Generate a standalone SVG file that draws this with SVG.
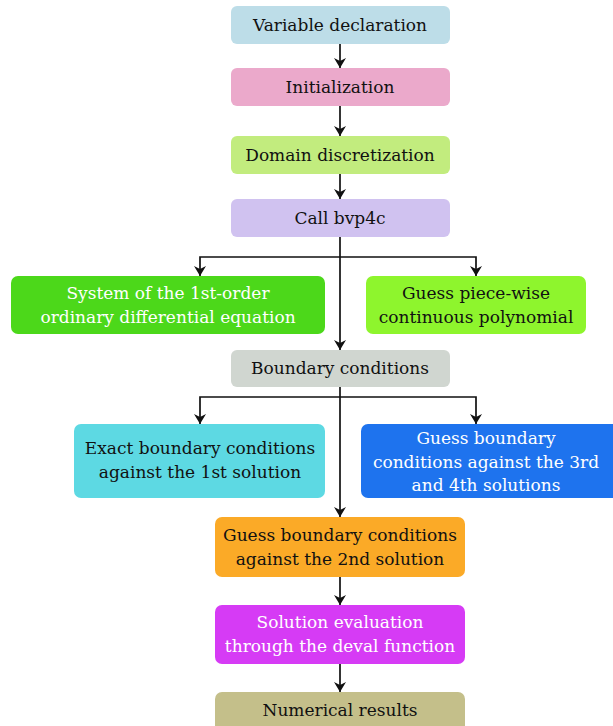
<svg xmlns="http://www.w3.org/2000/svg" width="613" height="726" viewBox="0 0 613 726">
<style>
text{font-family:"DejaVu Serif","Liberation Serif",serif;font-size:17px;text-anchor:middle;fill:#111}
text.w{fill:#fff}
.c{stroke:#111;stroke-width:1.7;fill:none}
</style>
<defs>
<marker id="ah" viewBox="0 0 10 12" refX="10" refY="6" markerWidth="11" markerHeight="12" markerUnits="userSpaceOnUse" orient="auto">
<path d="M0,0 L10,6 L0,12 L3,6 Z" fill="#111"/>
</marker>
</defs>
<rect width="613" height="726" fill="#fff"/>
<g id="connectors">
<path class="c" d="M340,44 V68" marker-end="url(#ah)"/>
<path class="c" d="M340,106 V136" marker-end="url(#ah)"/>
<path class="c" d="M340,174 V199" marker-end="url(#ah)"/>
<path class="c" d="M340,237 V350" marker-end="url(#ah)"/>
<path class="c" d="M340,257 H200 V276" marker-end="url(#ah)"/>
<path class="c" d="M340,257 H476 V276" marker-end="url(#ah)"/>
<path class="c" d="M340,387 V517" marker-end="url(#ah)"/>
<path class="c" d="M340,397 H200 V424" marker-end="url(#ah)"/>
<path class="c" d="M340,397 H476 V424" marker-end="url(#ah)"/>
<path class="c" d="M340,577 V605" marker-end="url(#ah)"/>
<path class="c" d="M340,664 V692" marker-end="url(#ah)"/>
</g>
<g id="n1"><rect x="231" y="6" width="219" height="38" rx="6" fill="#bddde8"/><text x="340" y="31">Variable declaration</text></g>
<g id="n2"><rect x="231" y="68" width="219" height="38" rx="6" fill="#eba9cb"/><text x="340" y="93">Initialization</text></g>
<g id="n3"><rect x="231" y="136" width="219" height="38" rx="6" fill="#c2ec7e"/><text x="340" y="161">Domain discretization</text></g>
<g id="n4"><rect x="231" y="199" width="219" height="38" rx="6" fill="#d0c2f0"/><text x="340" y="224">Call bvp4c</text></g>
<g id="n5"><rect x="11" y="276" width="314" height="58" rx="7" fill="#4cd81a"/><text class="w" x="168" y="299">System of the 1st-order</text><text class="w" x="168" y="323">ordinary differential equation</text></g>
<g id="n6"><rect x="366" y="276" width="220" height="58" rx="7" fill="#8ef52d"/><text x="476" y="299">Guess piece-wise</text><text x="476" y="323">continuous polynomial</text></g>
<g id="n7"><rect x="231" y="350" width="219" height="37" rx="6" fill="#d0d6d0"/><text x="340" y="374">Boundary conditions</text></g>
<g id="n8"><rect x="74" y="424" width="251" height="74" rx="7" fill="#5dd9e3"/><text x="200" y="454">Exact boundary conditions</text><text x="200" y="478">against the 1st solution</text></g>
<g id="n9"><rect x="361" y="424" width="262" height="74" rx="7" fill="#1e73ee"/><text class="w" x="486" y="444">Guess boundary</text><text class="w" x="486" y="468">conditions against the 3rd</text><text class="w" x="486" y="491">and 4th solutions</text></g>
<g id="n10"><rect x="215" y="517" width="250" height="60" rx="7" fill="#fbaa27"/><text x="340" y="541">Guess boundary conditions</text><text x="340" y="565">against the 2nd solution</text></g>
<g id="n11"><rect x="215" y="605" width="250" height="59" rx="7" fill="#d63bf5"/><text class="w" x="340" y="628">Solution evaluation</text><text class="w" x="340" y="652">through the deval function</text></g>
<g id="n12"><rect x="215" y="692" width="250" height="42" rx="7" fill="#c4bf8a"/><text x="340" y="716">Numerical results</text></g>
</svg>
